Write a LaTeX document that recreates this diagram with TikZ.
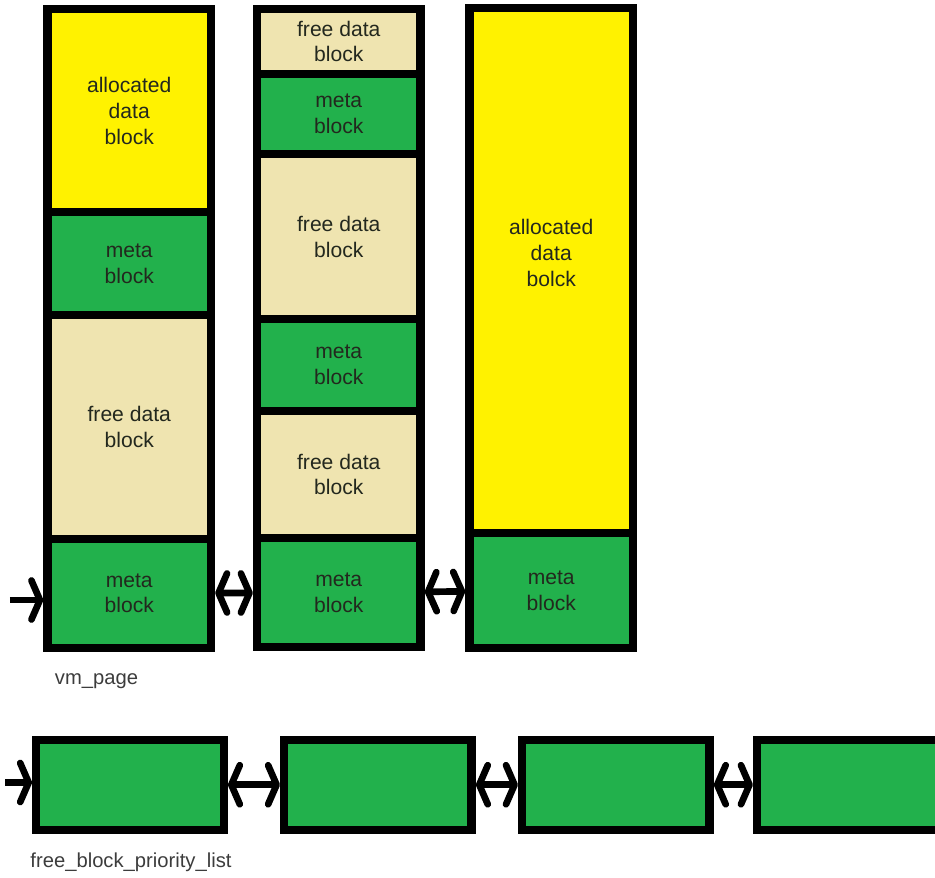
\documentclass[tikz,border=0pt]{standalone}
\usepackage{fontspec}
\setmainfont{Liberation Sans}
\usetikzlibrary{arrows.meta, positioning}
\definecolor{blkyellow}{RGB}{255,242,0}
\definecolor{blkgreen}{RGB}{34,177,76}
\definecolor{blkbeige}{RGB}{239,228,176}
\definecolor{blktext}{RGB}{35,40,30}
\definecolor{lbltext}{RGB}{60,60,60}
\tikzset{
  memblock/.style={rectangle, draw=black, line width=4.8pt,
    minimum width=3.27cm, inner sep=0pt, align=center,
    text=blktext, font=\fontsize{12}{14.7}\selectfont},
  allocblock/.style={memblock, fill=blkyellow},
  metablock/.style={memblock, fill=blkgreen},
  freeblock/.style={memblock, fill=blkbeige},
  listnode/.style={rectangle, draw=black, fill=blkgreen, line width=4.8pt,
    minimum width=3.75cm, minimum height=1.8cm},
  barb/.tip={Straight Barb[length=0.17cm, width=0.78cm, round]},
  link/.style={barb-barb, line width=3.8pt},
  entry/.style={-barb, line width=3.8pt},
  caption/.style={font=\fontsize{11.5}{13}\selectfont, text=lbltext}
}

\begin{document}
\begin{tikzpicture}
  \useasboundingbox (0,0) rectangle (18.7,-17.54);
  \clip (0,0) rectangle (18.7,-17.54);
  % first page
  \node[allocblock, minimum height=4.06cm, anchor=north] (c1a) at (2.585,-0.10) {allocated\\data\\block};
  \node[metablock, minimum height=2.05cm, below=-4.8pt of c1a] (c1b) {meta\\block};
  \node[freeblock, minimum height=4.48cm, below=-4.8pt of c1b] (c1c) {free data\\block};
  \node[metablock, minimum height=2.18cm, below=-4.8pt of c1c] (c1d) {meta\\block};
  % second page
  \node[freeblock, minimum height=1.29cm, anchor=north] (c2a) at (6.775,-0.10) {free data\\block};
  \node[metablock, minimum height=1.61cm, below=-4.8pt of c2a] (c2b) {meta\\block};
  \node[freeblock, minimum height=3.30cm, below=-4.8pt of c2b] (c2c) {free data\\block};
  \node[metablock, minimum height=1.83cm, below=-4.8pt of c2c] (c2d) {meta\\block};
  \node[freeblock, minimum height=2.55cm, below=-4.8pt of c2d] (c2e) {free data\\block};
  \node[metablock, minimum height=2.18cm, below=-4.8pt of c2e] (c2f) {meta\\block};
  % third page
  \node[allocblock, minimum height=10.5cm, anchor=north] (c3a) at (11.025,-0.08) {allocated\\data\\bolck\\[0.2cm]};
  \node[metablock, minimum height=2.29cm, below=-4.8pt of c3a] (c3b) {meta\\block};

  \coordinate (in1) at (0.2,-12.0);
  \draw[entry] (in1) -- (in1 -| c1d.west);
  \draw[link] (c1d) -- (c2f);
  \draw[link] (c2f) -- (c3b);
  \node[caption] (vmpage) at (1.93,-13.62) {vm\_page};

  % priority list
  \node[listnode] (fb1) at (2.6,-15.695) {};
  \node[listnode, right=1.04cm of fb1] (fb2) {};
  \node[listnode, right=0.84cm of fb2] (fb3) {};
  \node[listnode, right=0.78cm of fb3] (fb4) {};
  \coordinate (in2) at (0.1,-15.65);
  \draw[entry] (in2) -- (in2 -| fb1.west);
  \draw[link] (fb1) -- (fb2);
  \draw[link] (fb2) -- (fb3);
  \draw[link] (fb3) -- (fb4);
  \node[caption] (fblist) at (2.62,-17.24) {free\_block\_priority\_list};
\end{tikzpicture}
\end{document}
